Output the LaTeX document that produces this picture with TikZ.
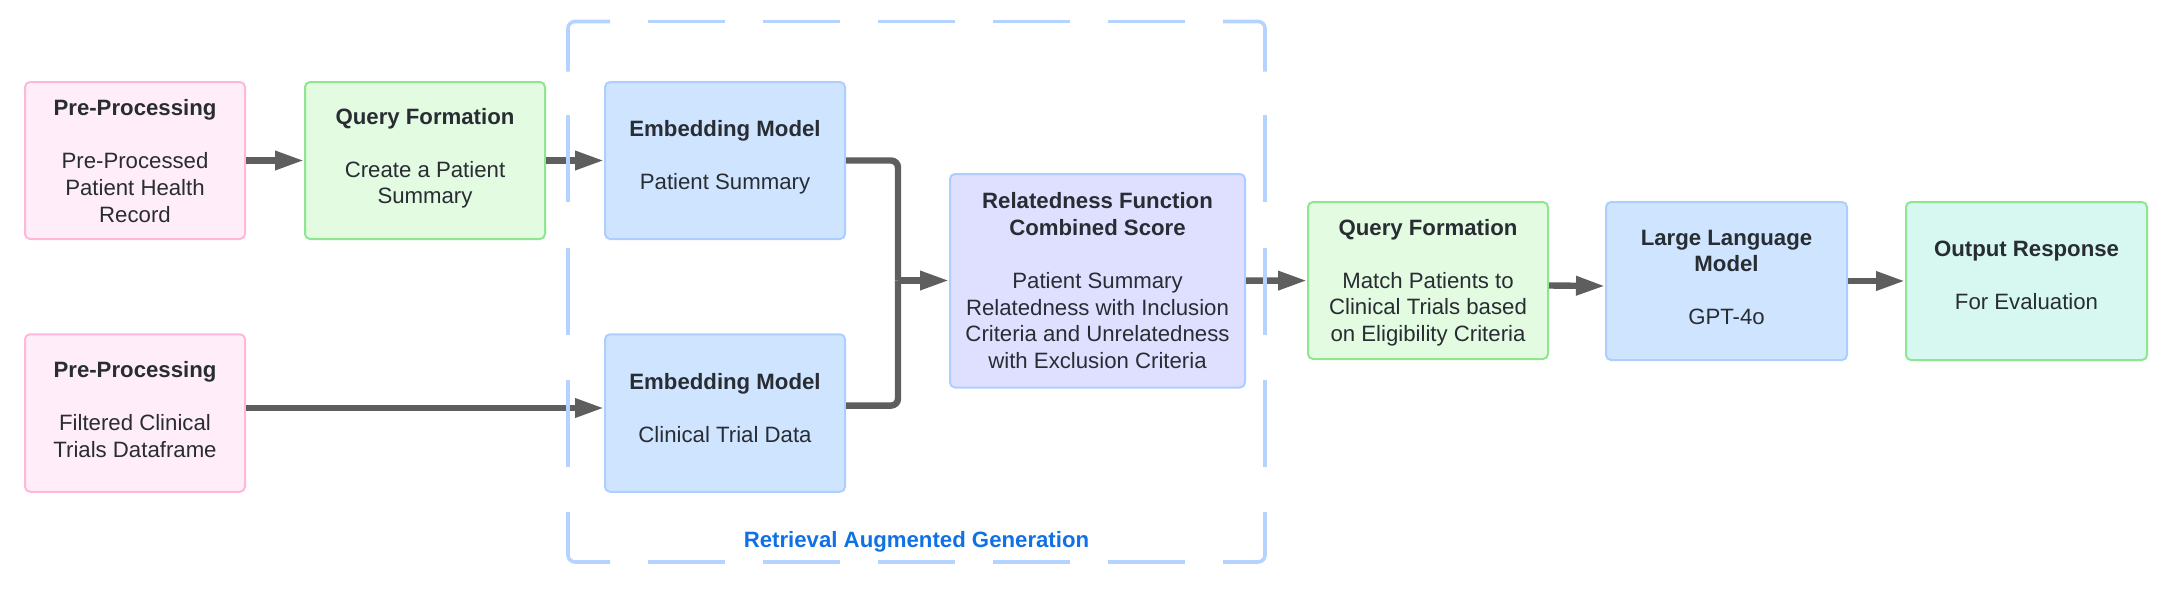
\documentclass[tikz,border=0pt]{standalone}
\usepackage{fontspec}
\setmainfont{Liberation Sans}
\usetikzlibrary{arrows.meta}
\definecolor{txt}{HTML}{282C33}
\definecolor{arrc}{HTML}{5E5E5E}
\definecolor{pinkfill}{HTML}{FFEEF9}
\definecolor{pinkdraw}{HTML}{FFB8DA}
\definecolor{greenfill}{HTML}{E2FBE1}
\definecolor{greendraw}{HTML}{8EE68E}
\definecolor{bluefill}{HTML}{CFE4FF}
\definecolor{bluedraw}{HTML}{ADCFFF}
\definecolor{purplefill}{HTML}{DFE0FF}
\definecolor{tealfill}{HTML}{D6F8F1}
\definecolor{framec}{HTML}{B5D3FF}
\definecolor{labelc}{HTML}{1071E5}
% text block: lines with a fixed pitch, raised by #1 inside the box
\newcommand{\boxlines}[2]{\raisebox{#1}[\height][\depth]{\begin{tabular}{@{}c@{}}#2\end{tabular}}}
\tikzset{
  box/.style={draw, rounded corners=2.5pt, line width=1pt, inner sep=0pt,
    text=txt, font=\fontsize{11.1}{13.3}\selectfont},
  pinkbox/.style={box, fill=pinkfill, draw=pinkdraw},
  greenbox/.style={box, fill=greenfill, draw=greendraw},
  bluebox/.style={box, fill=bluefill, draw=bluedraw},
  purplebox/.style={box, fill=purplefill, draw=bluedraw},
  tealbox/.style={box, fill=tealfill, draw=greendraw},
  conn/.style={draw=arrc, line width=3.2pt, rounded corners=3.5pt},
  arr/.style={conn, -{Triangle[length=14.5pt,width=9pt]}},
  frame/.style={draw=framec, line width=1.8pt, line cap=butt, rounded corners=3.5pt},
}
\begin{document}
\begin{tikzpicture}[x=0.5pt,y=-0.5pt]
\useasboundingbox (0,0) rectangle (2168,590);
% nodes
\node[pinkbox, minimum width=110pt, minimum height=78.5pt] (pp1) at (135,160.5)
  {\boxlines{-1.55pt}{\textbf{Pre-Processing}\\[13.3pt]Pre-Processed\\Patient Health\\Record}};
\node[greenbox, minimum width=120pt, minimum height=78.5pt] (qf1) at (425,160.5)
  {\boxlines{0.95pt}{\textbf{Query Formation}\\[13.3pt]Create a Patient\\Summary}};
\node[bluebox, minimum width=120pt, minimum height=78.5pt] (em1) at (725,160.5)
  {\boxlines{1.25pt}{\textbf{Embedding Model}\\[13.3pt]Patient Summary}};
\node[pinkbox, minimum width=110pt, minimum height=78.75pt] (pp2) at (135,413)
  {\boxlines{0.5pt}{\textbf{Pre-Processing}\\[13.3pt]Filtered Clinical\\Trials Dataframe}};
\node[bluebox, minimum width=120pt, minimum height=78.75pt] (em2) at (725,413)
  {\boxlines{1.2pt}{\textbf{Embedding Model}\\[13.3pt]Clinical Trial Data}};
\node[purplebox, minimum width=147.5pt, minimum height=106.75pt] (rf) at (1097.5,280.75)
  {\boxlines{-1.2pt}{\textbf{Relatedness Function}\\\textbf{Combined Score}\\[13.3pt]Patient Summary\\Relatedness with Inclusion\\Criteria and Unrelatedness\\with Exclusion Criteria}};
\node[greenbox, minimum width=120pt, minimum height=78.5pt] (qf2) at (1428,280.5)
  {\boxlines{-1.2pt}{\textbf{Query Formation}\\[13.3pt]Match Patients to\\Clinical Trials based\\on Eligibility Criteria}};
\node[bluebox, minimum width=120.5pt, minimum height=79pt] (llm) at (1726.5,281)
  {\boxlines{0.7pt}{\textbf{Large Language}\\\textbf{Model}\\[13.3pt]GPT-4o}};
\node[tealbox, minimum width=120.5pt, minimum height=79pt] (out) at (2026.5,281)
  {\boxlines{1.5pt}{\textbf{Output Response}\\[13.3pt]For Evaluation}};
% connectors
\coordinate (j) at (898,280.5);
\draw[arr] (pp1) -- (qf1);
\draw[arr] (qf1) -- (em1);
\draw[conn] (em1.east) -| (j);
\draw[conn] ([yshift=3.7pt]em2.east) -| (j);
\draw[arr] (j) -- (rf.west |- j);
\draw[arr] ([yshift=2.5pt]pp2.east) -- ([yshift=2.5pt]em2.west);
\draw[arr] (rf) -- (qf2);
\draw[arr] ([yshift=-2.5pt]qf2.east) -- ([yshift=-2.5pt]llm.west);
\draw[arr] (llm) -- (out);
% dashed frame (RAG)
\draw[frame] (568,71.5) -- (568,21.5) -- (610,21.5);
\draw[frame] (1223,21.5) -- (1265,21.5) -- (1265,71.5);
\draw[frame] (568,512) -- (568,562) -- (610,562);
\draw[frame] (1223,562) -- (1265,562) -- (1265,512);
\foreach \x in {648,763,878,993,1108} {
  \draw[frame] (\x,21.5) -- (\x+77,21.5);
  \draw[frame] (\x,562) -- (\x+77,562);
}
\foreach \y in {115,247.5,380} {
  \draw[frame] (568,\y) -- (568,\y+87);
  \draw[frame] (1265,\y) -- (1265,\y+87);
}
\node[font=\fontsize{11.1}{13.3}\selectfont\bfseries, text=labelc] (rag) at (916.5,542)
  {Retrieval Augmented Generation};
\end{tikzpicture}
\end{document}
